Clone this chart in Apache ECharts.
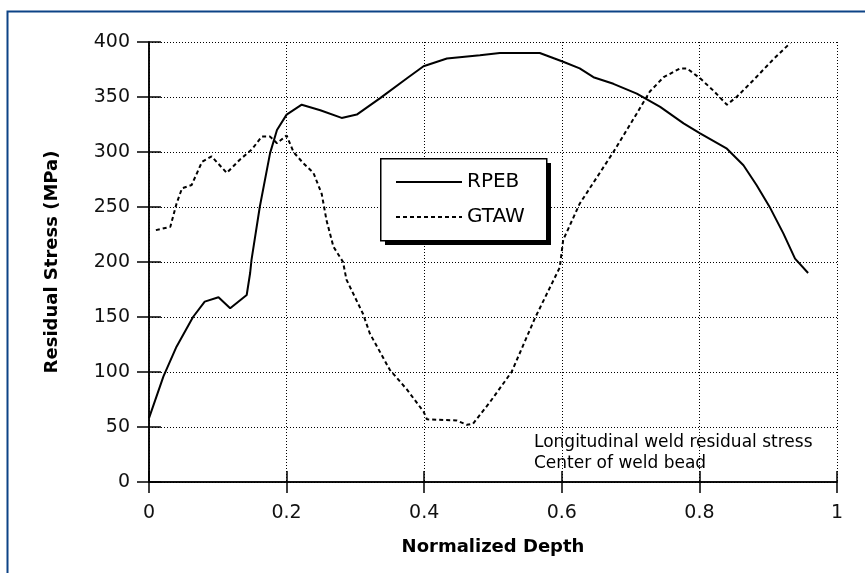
<!DOCTYPE html>
<html>
<head>
<meta charset="utf-8">
<script src="https://cdn.jsdelivr.net/npm/echarts@6/dist/echarts.min.js"></script>
<style>
  html, body { margin: 0; padding: 0; background: #fff; }
  #chart { width: 865px; height: 573px; }
</style>
</head>
<body>
<div id="chart"></div>
<script>
// residual stress vs normalized depth
const rpebDepth = [0, 0.021, 0.040, 0.064, 0.081, 0.101, 0.118, 0.142, 0.147, 0.149, 0.161, 0.176, 0.186, 0.200,
  0.222, 0.249, 0.280, 0.302, 0.336, 0.375, 0.399, 0.433, 0.481, 0.510, 0.568, 0.602, 0.626, 0.646, 0.675,
  0.709, 0.743, 0.777, 0.801, 0.840, 0.864, 0.883, 0.903, 0.922, 0.939, 0.958];
const rpebStress = [58, 96, 123, 150, 164, 168, 158, 170, 190, 202, 250, 299, 320, 334,
  343, 338, 331, 334, 349, 367, 378, 385, 388, 390, 390, 382, 376, 368, 362,
  353, 341, 326, 317, 303, 288, 270, 249, 226, 203, 190];

const gtawDepth = [0.010, 0.031, 0.040, 0.048, 0.062, 0.077, 0.091, 0.113, 0.132, 0.149, 0.164, 0.176, 0.186,
  0.200, 0.210, 0.224, 0.239, 0.251, 0.258, 0.268, 0.282, 0.287, 0.311, 0.321, 0.350, 0.375, 0.399, 0.404,
  0.447, 0.462, 0.471, 0.496, 0.527, 0.561, 0.597, 0.602, 0.626, 0.675, 0.709, 0.728, 0.748, 0.772, 0.782,
  0.801, 0.820, 0.840, 0.854, 0.878, 0.907, 0.932];
const gtawStress = [229, 232, 253, 267, 270, 291, 296, 281, 293, 302, 314, 314, 308,
  315, 300, 290, 281, 262, 238, 214, 200, 184, 153, 135, 102, 84, 64, 57,
  56, 52, 53, 73, 100, 149, 195, 220, 253, 300, 335, 355, 368, 376, 376,
  367, 356, 343, 350, 365, 384, 399];

const seriesNames = ['RPEB', 'GTAW'];
const noteLines = ['Longitudinal weld residual stress', 'Center of weld bead'];

function pairs(xs, ys) {
  return xs.map((x, i) => [x, ys[i]]);
}

const font = 'DejaVu Sans';
const frame = { show: true, lineStyle: { color: '#000', width: 1.5 } };
const grid = { show: true, lineStyle: { color: '#000', width: 1, type: [1, 2] } };

const option = {
  backgroundColor: '#fff',
  animation: false,
  grid: { left: 149, top: 42, right: 28, bottom: 91, outerBoundsMode: 'none' },
  xAxis: [{
    type: 'value', min: 0, max: 1, interval: 0.2,
    name: 'Normalized Depth', nameLocation: 'middle', nameGap: 56,
    nameTextStyle: { fontFamily: font, fontWeight: 'bold', fontSize: 18, color: '#000' },
    axisLine: frame,
    axisTick: { inside: true, length: 11, lineStyle: { color: '#000', width: 1.5 } },
    axisLabel: { fontFamily: font, fontSize: 19, color: '#111', margin: 22 },
    splitLine: grid
  }, {
    type: 'value', min: 0, max: 1, interval: 0.2, position: 'top',
    axisLine: frame,
    axisTick: { inside: true, length: 11, lineStyle: { color: '#000', width: 1.5 } },
    axisLabel: { show: false }, splitLine: { show: false }
  }],
  yAxis: [{
    type: 'value', min: 0, max: 400, interval: 50,
    name: 'Residual Stress (MPa)', nameLocation: 'middle', nameGap: 88,
    nameTextStyle: { fontFamily: font, fontWeight: 'bold', fontSize: 18, color: '#000' },
    axisLine: frame,
    axisTick: { inside: true, length: 12, lineStyle: { color: '#000', width: 1.5 } },
    axisLabel: { fontFamily: font, fontSize: 19, color: '#111', margin: 19 },
    splitLine: grid
  }, {
    type: 'value', min: 0, max: 400, interval: 50, position: 'right',
    axisLine: frame,
    axisTick: { inside: true, length: 12, lineStyle: { color: '#000', width: 1.5 } },
    axisLabel: { show: false }, splitLine: { show: false }
  }],
  legend: {
    orient: 'vertical', left: 380, top: 158,
    padding: [14, 28, 12, 15], itemGap: 15, itemWidth: 66, itemHeight: 20,
    itemStyle: { opacity: 0 },
    textStyle: { fontFamily: font, fontSize: 20, color: '#000' },
    data: seriesNames
  },
  graphic: [
    { type: 'rect', left: 5, top: 9, shape: { width: 900, height: 600 }, silent: true, z: -10,
      style: { fill: 'none', stroke: '#0d4386', lineWidth: 2 } },
    // legend box and its hard shadow
    { type: 'rect', left: 385, top: 163, shape: { width: 166, height: 82 }, silent: true, z: 3,
      style: { fill: '#000' } },
    { type: 'rect', left: 380, top: 158, shape: { width: 166, height: 82 }, silent: true, z: 3,
      style: { fill: '#fff', stroke: '#000', lineWidth: 1.5 } },
    { type: 'text', left: 534, top: 432, silent: true,
      style: { text: noteLines.join('\n'), font: '17px "DejaVu Sans"', fill: '#000', lineHeight: 21 } }
  ],
  series: [{
    name: seriesNames[0], type: 'line', symbol: 'none',
    lineStyle: { color: '#000', width: 2, type: 'solid' },
    itemStyle: { color: '#000' },
    data: pairs(rpebDepth, rpebStress)
  }, {
    name: seriesNames[1], type: 'line', symbol: 'none',
    lineStyle: { color: '#000', width: 2, type: [4, 3] },
    itemStyle: { color: '#000' },
    data: pairs(gtawDepth, gtawStress)
  }]
};

const chart = echarts.init(document.getElementById('chart'));
chart.setOption(option);
</script>
</body>
</html>
